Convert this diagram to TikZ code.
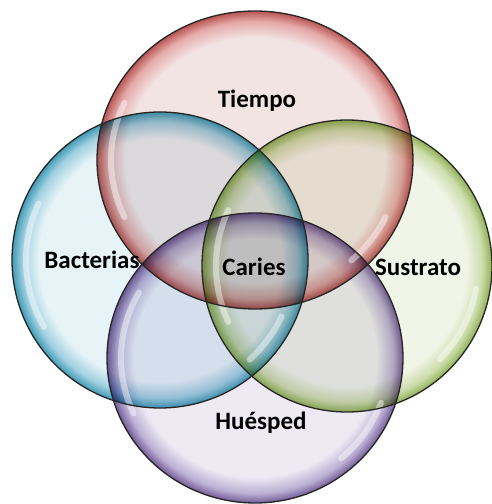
\documentclass[tikz,border=0pt]{standalone}
\usepackage{fontspec}
\setmainfont{Carlito}
\definecolor{redin}{RGB}{243,228,228}
\definecolor{redmid}{RGB}{228,170,168}
\definecolor{redout}{RGB}{185,85,83}
\definecolor{bluein}{RGB}{230,243,247}
\definecolor{bluemid}{RGB}{160,208,224}
\definecolor{blueout}{RGB}{65,155,182}
\definecolor{greenin}{RGB}{241,245,232}
\definecolor{greenmid}{RGB}{205,221,172}
\definecolor{greenout}{RGB}{145,176,85}
\definecolor{purplein}{RGB}{237,234,244}
\definecolor{purplemid}{RGB}{188,176,212}
\definecolor{purpleout}{RGB}{115,92,152}
\pgfdeclareradialshading{redball}{\pgfpoint{0bp}{0bp}}{color(0bp)=(redin); color(20.5bp)=(redin); color(23.3bp)=(redmid); color(25bp)=(redout); color(50bp)=(redout)}
\pgfdeclareradialshading{blueball}{\pgfpoint{0bp}{0bp}}{color(0bp)=(bluein); color(20.5bp)=(bluein); color(23.3bp)=(bluemid); color(25bp)=(blueout); color(50bp)=(blueout)}
\pgfdeclareradialshading{greenball}{\pgfpoint{0bp}{0bp}}{color(0bp)=(greenin); color(20.5bp)=(greenin); color(23.3bp)=(greenmid); color(25bp)=(greenout); color(50bp)=(greenout)}
\pgfdeclareradialshading{purpleball}{\pgfpoint{0bp}{0bp}}{color(0bp)=(purplein); color(20.5bp)=(purplein); color(23.3bp)=(purplemid); color(25bp)=(purpleout); color(50bp)=(purpleout)}
\tikzset{
  lbl/.style={font=\bfseries\fontsize{25}{30}\selectfont, text=black, inner sep=0pt},
  rim/.style={draw=black!85, line width=1.3pt},
  gloss/.style={draw=white, line width=6pt, line cap=round, opacity=0.45}
}
\begin{document}
\begin{tikzpicture}[x=1pt,y=1pt]
\useasboundingbox (0,0) rectangle (492,504);
\coordinate (cr) at (255,344);
\coordinate (cb) at (160,244);
\coordinate (cg) at (347,238);
\coordinate (cp) at (255,146);
\begin{scope}[blend mode=multiply]
\shade[shading=redball] (cr) ellipse [x radius=158, y radius=149];
\shade[shading=blueball] (cb) ellipse [x radius=148, y radius=148];
\shade[shading=greenball] (cg) ellipse [x radius=145, y radius=146];
\shade[shading=purpleball] (cp) ellipse [x radius=148, y radius=145];
\end{scope}
% gloss highlights
\draw[gloss] ([shift={(155:144 and 135)}]cr) arc [start angle=155, end angle=205, x radius=144, y radius=135];
\draw[gloss] ([shift={(-25:144 and 135)}]cr) arc [start angle=-25, end angle=-48, x radius=144, y radius=135];
\draw[gloss] ([shift={(155:134 and 134)}]cb) arc [start angle=155, end angle=210, x radius=134, y radius=134];
\draw[gloss] ([shift={(-25:134 and 134)}]cb) arc [start angle=-25, end angle=-48, x radius=134, y radius=134];
\draw[gloss] ([shift={(155:131 and 132)}]cg) arc [start angle=155, end angle=205, x radius=131, y radius=132];
\draw[gloss] ([shift={(-10:131 and 132)}]cg) arc [start angle=-10, end angle=-45, x radius=131, y radius=132];
\draw[gloss] ([shift={(150:134 and 131)}]cp) arc [start angle=150, end angle=205, x radius=134, y radius=131];
\draw[gloss] ([shift={(-20:134 and 131)}]cp) arc [start angle=-20, end angle=-50, x radius=134, y radius=131];
% outlines
\draw[rim] (cr) ellipse [x radius=158, y radius=149];
\draw[rim] (cb) ellipse [x radius=148, y radius=148];
\draw[rim] (cg) ellipse [x radius=145, y radius=146];
\draw[rim] (cp) ellipse [x radius=148, y radius=145];
% labels
\node[lbl] (tiempo) at (257,403) {Tiempo};
\node[lbl] (bacterias) at (92,244) {Bacterias};
\node[lbl] (caries) at (254,237) {Caries};
\node[lbl] (sustrato) at (418,237) {Sustrato};
\node[lbl] (huesped) at (261,81) {Huésped};
\end{tikzpicture}
\end{document}
